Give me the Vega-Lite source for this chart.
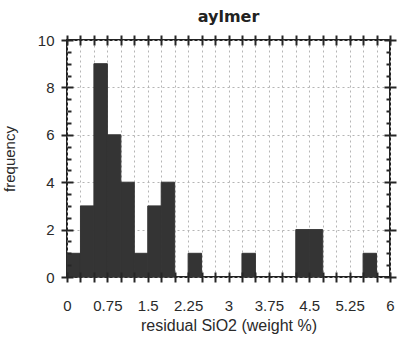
{
  "$schema": "https://vega.github.io/schema/vega-lite/v6.json",
  "width": 323,
  "height": 237,
  "autosize": "none",
  "padding": {"left": 67, "top": 40, "right": 8, "bottom": 64},
  "title": {
    "text": "aylmer",
    "font": "DejaVu Sans",
    "fontSize": 16,
    "fontWeight": "bold",
    "color": "#222",
    "offset": 8
  },
  "config": {
    "view": {"stroke": "#222", "strokeWidth": 2},
    "axis": {
      "labelFont": "Liberation Sans",
      "titleFont": "Liberation Sans",
      "labelFontSize": 15,
      "titleFontSize": 15,
      "titleFontWeight": "normal",
      "labelColor": "#2a2a2a",
      "titleColor": "#2a2a2a",
      "tickColor": "#262626",
      "tickWidth": 2,
      "gridColor": "#b5b5b5",
      "gridDash": [2, 3],
      "gridWidth": 1,
      "labelOverlap": false,
      "labelFlush": false
    }
  },
  "data": {
    "values": [
      {"start": 0.0, "end": 0.25, "count": 1},
      {"start": 0.25, "end": 0.5, "count": 3},
      {"start": 0.5, "end": 0.75, "count": 9},
      {"start": 0.75, "end": 1.0, "count": 6},
      {"start": 1.0, "end": 1.25, "count": 4},
      {"start": 1.25, "end": 1.5, "count": 1},
      {"start": 1.5, "end": 1.75, "count": 3},
      {"start": 1.75, "end": 2.0, "count": 4},
      {"start": 2.25, "end": 2.5, "count": 1},
      {"start": 3.25, "end": 3.5, "count": 1},
      {"start": 4.25, "end": 4.5, "count": 2},
      {"start": 4.5, "end": 4.75, "count": 2},
      {"start": 5.5, "end": 5.75, "count": 1}
    ]
  },
  "layer": [
    {
      "mark": {"type": "bar", "color": "#343434", "stroke": "#343434", "strokeWidth": 1, "orient": "vertical"},
      "encoding": {
        "x": {
          "field": "start",
          "type": "quantitative",
          "scale": {"domain": [0, 6], "nice": false, "zero": false, "padding": 0},
          "axis": {
            "orient": "bottom",
            "values": [0, 0.25, 0.5, 0.75, 1, 1.25, 1.5, 1.75, 2, 2.25, 2.5, 2.75, 3, 3.25, 3.5, 3.75, 4, 4.25, 4.5, 4.75, 5, 5.25, 5.5, 5.75, 6],
            "labelExpr": "abs(datum.value / 0.75 - round(datum.value / 0.75)) < 0.001 ? format(datum.value, '~g') : ''",
            "labelFlush": false,
            "labelAlign": "center",
            "labelOverlap": false,
            "ticks": false,
            "domain": false,
            "grid": true,
            "labelPadding": 21,
            "title": "residual SiO2 (weight %)",
            "titleFontSize": 16,
            "titlePadding": 4,
            "zindex": 0
          }
        },
        "x2": {"field": "end"},
        "y": {
          "field": "count",
          "type": "quantitative",
          "scale": {"domain": [0, 10], "nice": false, "padding": 0},
          "axis": {
            "orient": "left",
            "values": [0, 2, 4, 6, 8, 10],
            "labelFlush": false,
            "labelBaseline": "middle",
            "ticks": false,
            "domain": false,
            "grid": true,
            "labelPadding": 13,
            "title": "frequency",
            "titlePadding": 20,
            "zindex": 0
          }
        },
        "y2": {"datum": 0}
      }
    },
    {
      "mark": {"type": "bar", "opacity": 0, "orient": "vertical"},
      "encoding": {
        "x": {
          "field": "start",
          "type": "quantitative",
          "axis": {
            "orient": "bottom",
            "offset": -5,
            "tickSize": 10,
            "values": [0, 0.25, 0.5, 0.75, 1, 1.25, 1.5, 1.75, 2, 2.25, 2.5, 2.75, 3, 3.25, 3.5, 3.75, 4, 4.25, 4.5, 4.75, 5, 5.25, 5.5, 5.75, 6],
            "labels": false,
            "domain": false,
            "grid": false,
            "title": null,
            "zindex": 1
          }
        },
        "x2": {"field": "end"},
        "y": {
          "field": "count",
          "type": "quantitative",
          "axis": {
            "orient": "left",
            "offset": -6,
            "tickSize": 12,
            "values": [0, 2, 4, 6, 8, 10],
            "labels": false,
            "domain": false,
            "grid": false,
            "title": null,
            "zindex": 1
          }
        },
        "y2": {"datum": 0}
      }
    },
    {
      "mark": {"type": "bar", "opacity": 0, "orient": "vertical"},
      "encoding": {
        "x": {
          "field": "start",
          "type": "quantitative",
          "axis": {
            "orient": "top",
            "offset": -5,
            "tickSize": 10,
            "values": [0, 0.25, 0.5, 0.75, 1, 1.25, 1.5, 1.75, 2, 2.25, 2.5, 2.75, 3, 3.25, 3.5, 3.75, 4, 4.25, 4.5, 4.75, 5, 5.25, 5.5, 5.75, 6],
            "labels": false,
            "domain": false,
            "grid": false,
            "title": null,
            "zindex": 1
          }
        },
        "x2": {"field": "end"},
        "y": {
          "field": "count",
          "type": "quantitative",
          "axis": {
            "orient": "right",
            "offset": -6,
            "tickSize": 12,
            "values": [0, 2, 4, 6, 8, 10],
            "labels": false,
            "domain": false,
            "grid": false,
            "title": null,
            "zindex": 1
          }
        },
        "y2": {"datum": 0}
      }
    },
    {
      "mark": {"type": "bar", "opacity": 0, "orient": "vertical"},
      "encoding": {
        "x": {"field": "start", "type": "quantitative", "axis": null},
        "x2": {"field": "end"},
        "y": {
          "field": "count",
          "type": "quantitative",
          "axis": {
            "orient": "left",
            "offset": -4,
            "tickSize": 4,
            "values": [0.5, 1, 1.5, 2.5, 3, 3.5, 4.5, 5, 5.5, 6.5, 7, 7.5, 8.5, 9, 9.5],
            "labels": false,
            "domain": false,
            "grid": false,
            "title": null,
            "zindex": 1
          }
        },
        "y2": {"datum": 0}
      }
    },
    {
      "mark": {"type": "bar", "opacity": 0, "orient": "vertical"},
      "encoding": {
        "x": {"field": "start", "type": "quantitative", "axis": null},
        "x2": {"field": "end"},
        "y": {
          "field": "count",
          "type": "quantitative",
          "axis": {
            "orient": "right",
            "offset": -4,
            "tickSize": 4,
            "values": [0.5, 1, 1.5, 2.5, 3, 3.5, 4.5, 5, 5.5, 6.5, 7, 7.5, 8.5, 9, 9.5],
            "labels": false,
            "domain": false,
            "grid": false,
            "title": null,
            "zindex": 1
          }
        },
        "y2": {"datum": 0}
      }
    }
  ]
}
